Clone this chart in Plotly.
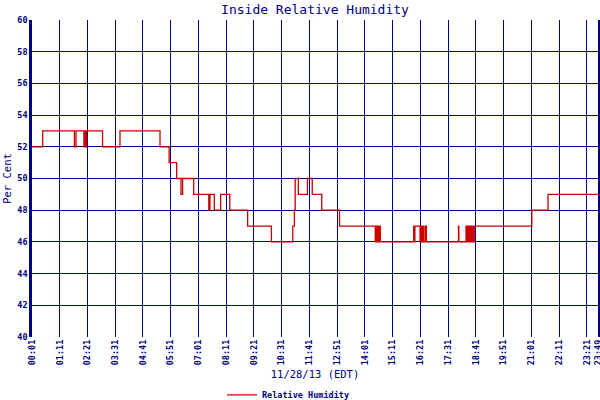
import plotly.graph_objects as go

# tick labels along the time axis (every 70 minutes, plus the last reading)
tick_labels = ["00:01", "01:11", "02:21", "03:31", "04:41", "05:51", "07:01",
               "08:11", "09:21", "10:31", "11:41", "12:51", "14:01", "15:11",
               "16:21", "17:31", "18:41", "19:51", "21:01", "22:11", "23:21",
               "23:49"]

# humidity readings: time the value starts, value (per cent)
times = ["00:01", "00:28", "01:48", "01:52", "02:12", "02:14", "02:16", "02:19",
         "02:59", "03:43", "05:24", "05:47", "06:06", "06:17", "06:21", "06:49",
         "07:27", "07:30", "07:41", "07:57", "08:20", "09:05", "10:05", "10:59",
         "11:03", "11:05", "11:13", "11:36", "11:48", "12:12", "12:57", "14:27",
         "14:29", "14:31", "14:33", "14:36", "14:38", "14:40", "16:04", "16:06",
         "16:07", "16:20", "16:22", "16:25", "16:27", "16:30", "16:34", "16:36",
         "17:57", "17:58", "18:16", "18:18", "18:20", "18:22", "18:25", "18:28",
         "18:31", "18:34", "18:37", "21:02", "21:43", "23:49"]
humidity = [52, 53, 52, 53, 52, 53, 52, 53,
            52, 53, 52, 51, 50, 49, 50, 49,
            48, 49, 48, 49, 48, 47, 46, 47,
            48, 50, 49, 50, 49, 48, 47, 46,
            47, 46, 47, 46, 47, 46, 47, 46,
            47, 46, 47, 46, 47, 46, 47, 46,
            47, 46, 47, 46, 47, 46, 47, 46,
            47, 46, 47, 48, 49, 49]

y_ticks = list(range(40, 61, 2))


def to_minutes(hhmm):
    h, m = hhmm.split(":")
    return int(h) * 60 + int(m)


navy = "#000080"
mono = "DejaVu Sans Mono"

fig = go.Figure()
fig.add_trace(go.Scatter(
    x=[to_minutes(t) for t in times],
    y=humidity,
    mode="lines",
    line=dict(color="#cc0000", width=1.3, shape="hv"),
    name="Relative Humidity",
))

tick_vals = [to_minutes(t) for t in tick_labels]

fig.update_layout(
    width=600, height=400,
    paper_bgcolor="white", plot_bgcolor="white",
    margin=dict(l=32, r=2, t=20, b=63, autoexpand=False),
    title=dict(text="Inside Relative Humidity", x=0.5, xref="paper", xanchor="center",
               y=0.977, yanchor="middle", font=dict(family=mono, size=13, color=navy)),
    showlegend=True,
    legend=dict(orientation="h", xref="container", x=0.37, xanchor="left",
                yref="container", y=0.013, yanchor="middle",
                font=dict(family=mono, size=8.5, color=navy, weight="bold"),
                itemwidth=30),
    xaxis=dict(
        range=[tick_vals[0], tick_vals[-1]], automargin=False,
        tickvals=tick_vals, ticktext=tick_labels, tickangle=-90,
        ticklabeloverflow="allow",
        tickfont=dict(family=mono, size=8.5, color=navy, weight="bold"),
        showgrid=True, gridcolor=navy, gridwidth=1.4,
        showline=False, zeroline=False, ticks="",
        title=dict(text="11/28/13 (EDT)", font=dict(family=mono, size=10.5, color=navy),
                   standoff=6),
    ),
    yaxis=dict(
        range=[40, 60], tickvals=y_ticks, automargin=False,
        tickfont=dict(family=mono, size=8.5, color=navy, weight="bold"),
        showgrid=True, gridcolor=navy, gridwidth=1.4,
        showline=True, linecolor=navy, linewidth=2.5, mirror=True,
        zeroline=False, ticks="",
        title=dict(text="Per Cent", font=dict(family=mono, size=10.5, color=navy),
                   standoff=4),
    ),
)

# the page's default body margin would shift the figure by 8px
fig.write_html("out.html", config={"displayModeBar": False},
               post_script="document.body.style.margin='0px';")
